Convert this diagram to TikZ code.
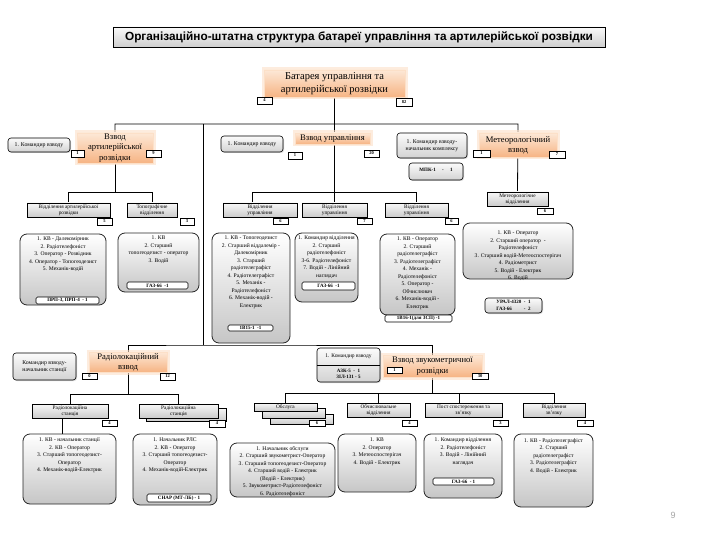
\documentclass[tikz,border=0pt]{standalone}
\usepackage{fontspec}
\setmainfont{Liberation Serif}
\newfontfamily\ttlfont{Liberation Sans}
\usetikzlibrary{backgrounds,shadows}
\definecolor{ortop}{RGB}{253,232,214}
\definecolor{orbot}{RGB}{246,180,132}
\definecolor{orglow}{RGB}{252,224,200}
\newcommand\fs[2]{\fontsize{#1}{#2}\selectfont}
\newcommand\bx[7]{%
 \pgfmathsetmacro\mywd{#5-#3}\pgfmathsetmacro\myht{#6-#4}%
 \pgfmathsetmacro\mycx{(#3+#5)/2}\pgfmathsetmacro\mycy{-(#4+#6)/2}%
 \node[#2,minimum width=\mywd pt,minimum height=\myht pt,inner sep=0pt,outer sep=0pt] (#1) at (\mycx pt,\mycy pt) {#7};}
\newcommand\dt[7]{%
 \bx{#1}{rbox}{#2}{#3}{#4}{#5}{}%
 \node[dtext,anchor=north] (#1t) at ([yshift=-#6pt]#1.north) {#7};}
\tikzset{
 orbox/.style={top color=ortop,bottom color=orbot,draw=orglow,line width=0.4pt,
   preaction={draw=orglow,line width=5pt,opacity=0.6},align=center,font=\fs{8.6}{10.2}},
 hdbox/.style={draw=black,line width=0.6pt,top color=gray!6,bottom color=gray!40,align=center,
   font=\fs{5.3}{6.3},drop shadow={shadow xshift=1pt,shadow yshift=-1pt,opacity=0.3}},
 rbox/.style={draw=black!85,line width=0.8pt,rounded corners=7pt,top color=white,bottom color=gray!45},
 cmdbox/.style={draw=black,line width=0.6pt,rounded corners=3pt,top color=gray!3,bottom color=gray!35,
   align=center,font=\fs{5.8}{7.5},drop shadow={shadow xshift=1pt,shadow yshift=-1pt,opacity=0.3}},
 nbox/.style={draw=black,line width=0.6pt,fill=white,font=\fs{4.5}{5}\bfseries,
   drop shadow={shadow xshift=0.8pt,shadow yshift=-0.8pt,opacity=0.3}},
 ibox/.style={draw=black,line width=0.6pt,rounded corners=1.5pt,fill=white,font=\fs{5}{6}\bfseries},
 dtext/.style={align=center,font=\fs{5.6}{7.5},inner sep=0pt},
 conn/.style={draw=black,line width=0.8pt}
}
\begin{document}
\begin{tikzpicture}
\useasboundingbox (0,0) rectangle (720pt,-540pt);
% title
\bx{tbar}{draw=black,line width=0.8pt,top color=gray!4,bottom color=gray!38,font=\ttlfont\bfseries\fs{11.8}{13}}{113}{27}{605}{47}{Організаційно-штатна структура батареї управління та артилерійської розвідки}
% top
\bx{top}{orbox,font=\fs{10.5}{12.5}}{264}{70}{405}{97}{Батарея управління та\\артилерійської розвідки}
\bx{n4}{nbox}{257}{97}{272}{104}{4}
\bx{n82}{nbox}{396}{98}{412}{106}{82}
% platoon art recon
\bx{vzar}{orbox}{77}{133}{153}{163}{Взвод\\артилерійської\\розвідки}
\bx{cmd1}{cmdbox}{8}{138}{70}{152}{1. Командир взводу}
\bx{na1}{nbox}{71}{150}{84}{157}{1}
\bx{na9}{nbox}{146}{150}{161}{157}{9}
% control platoon
\bx{vupr}{orbox}{295}{133}{370}{144}{Взвод управління}
\bx{cmd2}{cmdbox}{221}{136}{283}{152}{1. Командир взводу}
\bx{nu1}{nbox}{288}{152}{302}{159}{1}
\bx{nu20}{nbox}{364}{150}{379}{157}{20}
\bx{cmd3}{cmdbox}{397}{133}{467}{158}{1. Командир взводу-\\начальник комплексу}
\bx{mpk}{cmdbox}{409}{163}{463}{180}{}
\node[font=\fs{5}{6}\bfseries,anchor=north] (mpkt) at ([yshift=-2pt]mpk.north) {МПК-1 \quad - \quad 1};
% meteo platoon
\bx{mvz}{orbox}{479}{133}{557}{157}{Метеорологічний\\взвод}
\bx{nm1}{nbox}{473}{150}{490}{157}{1}
\bx{nm7}{nbox}{549}{151}{565}{158}{7}
% art recon squads
\bx{var}{hdbox}{27}{203}{110}{217}{Відділення артилерійської\\розвідки}
\bx{nv5}{nbox}{97}{218}{112}{225}{5}
\bx{vtop}{hdbox}{127}{203}{177}{217}{Топографічне\\відділення}
\bx{nv3}{nbox}{180}{218}{194}{225}{3}
\dt{dA1}{20}{234}{106}{305}{3}{1. КВ - Далекомірник\\2. Радіотелефоніст\\3. Оператор - Розвідник\\4. Оператор - Топогеодезист\\5. Механік-водій}
\bx{iA1}{ibox}{36}{297}{99}{304}{ПРП-3, ПРП-4 \ - 1}
\dt{dA2}{118}{233}{199}{292}{3}{1. КВ\\2. Старший\\топогеодезист - оператор\\3. Водій}
\bx{iA2}{ibox}{127}{282}{188}{289}{ГАЗ-66 \ -1}
% control squads
\bx{vu1}{hdbox}{223}{203}{297}{217}{Відділення\\управління}
\bx{nw6}{nbox}{273}{218}{288}{224}{6}
\bx{vu2}{hdbox}{302}{203}{367}{217}{Відділення\\управління}
\bx{nw7}{nbox}{357}{218}{372}{224}{7}
\bx{vu3}{hdbox}{385}{203}{448}{217}{Відділення\\управління}
\bx{nx6}{nbox}{445}{218}{458}{224}{6}
\dt{dU1}{212}{233}{290}{343}{3}{1. КВ - Топогеодезист\\2. Старший віддалемір -\\Далекомірник\\3. Старший\\радіотелеграфіст\\4. Радіотелеграфіст\\5. Механік -\\Радіотелефоніст\\6. Механік-водій -\\Електрик}
\bx{iU1}{ibox}{228}{325}{273}{331}{1В15-1 \ -1}
\dt{dU2}{295}{233}{358}{302}{3}{1. Командир відділення\\2. Старший\\радіотелефоніст\\3-6. Радіотелефоніст\\7. Водій - Лінійний\\наглядач}
\bx{iU2}{ibox}{302}{282}{355}{290}{ГАЗ-66 \ -1}
\dt{dU3}{380}{234}{455}{315}{3}{1. КВ - Оператор\\2. Старший\\радіотелеграфіст\\3. Радіотелеграфіст\\4. Механік -\\Радіотелефоніст\\5. Оператор -\\Обчислювач\\6. Механік-водій -\\Електрик}
\bx{iU3}{ibox}{385}{315}{452}{322}{1В16-1(для ЗСП) -1}
% meteo squad
\bx{mvid}{hdbox}{487}{192}{548}{206}{Метеорологічне\\відділення}
\bx{nmv6}{nbox}{537}{208}{553}{214}{6}
\dt{dM}{463}{223}{573}{279}{8}{1. КВ - Оператор\\2. Старший оператор \ -\\Радіотелефоніст\\3. Старший водій-Метеоспостерігач\\4. Радіометрист\\5. Водій - Електрик\\6. Водій}
\bx{mveh}{cmdbox}{485}{298}{542}{313}{}
\node[font=\fs{5}{6.5}\bfseries,anchor=center] (mveht) at (mveh.center) {\begin{tabular}{@{}l@{\ \ }c@{\ \ }r@{}}УРАЛ-4320&-&1\\ГАЗ-66&-&2\end{tabular}};
% radar platoon
\bx{rlvz}{orbox}{89}{352}{167}{372}{Радіолокаційний\\взвод}
\bx{nr0}{nbox}{82}{373}{97}{379}{0}
\bx{nr12}{nbox}{160}{373}{175}{380}{12}
\bx{cmd4}{cmdbox}{13}{353}{76}{380}{Командир взводу-\\начальник станції}
\bx{rls1}{hdbox}{32}{404}{108}{418}{Радіолокаційна\\станція}
\bx{nrs1}{nbox}{102}{420}{117}{426}{4}
\bx{rls2b}{hdbox}{146}{408}{226}{421}{}
\bx{rls2}{hdbox}{139}{404}{218}{418}{Радіолокаційна\\станція}
\bx{nrs2}{nbox}{209}{420}{225}{427}{4}
\dt{dR1}{23}{434}{116}{504}{4}{1. КВ - начальник станції\\2. КВ - Оператор\\3. Старший топогеодезист-\\Оператор\\4. Механік-водій-Електрик}
\dt{dR2}{133}{434}{217}{505}{4}{1. Начальник РЛС\\2. КВ - Оператор\\3. Старший топогеодезист-\\Оператор\\4. Механік-водій-Електрик}
\bx{iR2}{ibox}{147}{494}{211}{502}{СНАР (МТ-ЛБ) - 1}
% sound ranging platoon
\bx{cmd5}{cmdbox}{317}{348}{380}{382}{}
\draw[line width=0.6pt] (cmd5.west) -- (cmd5.east);
\node[font=\fs{5.5}{6}] (cmd5a) at ([yshift=8.5pt]cmd5.center) {1. Командир взводу};
\node[font=\fs{5}{6.2}\bfseries,align=center] (cmd5b) at ([yshift=-8.5pt]cmd5.center) {АЗК-5 \ - \ 1\\ЗІЛ-131 - 5};
\bx{zvuk}{orbox}{383}{355}{482}{377}{Взвод звукометричної\\розвідки}
\bx{nz1}{nbox}{387}{367}{402}{373}{1}
\bx{nz30}{nbox}{472}{373}{488}{379}{30}
\bx{obs3}{hdbox}{270}{414}{333}{424}{}
\bx{obs2}{hdbox}{262}{408}{325}{418}{}
\bx{obs1}{hdbox}{254}{403}{317}{411}{Обслуга}
\bx{nob6}{nbox}{309}{420}{325}{426}{6}
\bx{obch}{hdbox}{347}{403}{410}{417}{Обчислювальне\\відділення}
\bx{noc4}{nbox}{402}{420}{417}{426}{4}
\bx{post}{hdbox}{425}{403}{502}{417}{Пост спостереження та\\зв'язку}
\bx{np3}{nbox}{493}{420}{508}{426}{3}
\bx{vz}{hdbox}{523}{403}{585}{417}{Відділення\\зв'язку}
\bx{nvz4}{nbox}{577}{420}{593}{426}{4}
\dt{dO}{230}{443}{335}{497}{3}{1. Начальник обслуги\\2. Старший звукометрист-Оператор\\3. Старший топогеодезист-Оператор\\4. Старший водій - Електрик\\(Водій - Електрик)\\5. Звукометрист-Радіотелефоніст\\6. Радіотелефоніст}
\dt{dC}{338}{434}{416}{492}{4}{1. КВ\\2. Оператор\\3. Метеоспостерігач\\4. Водій - Електрик}
\dt{dP}{424}{434}{502}{498}{4}{1. Командир відділення\\2. Радіотелефоніст\\3. Водій - Лінійний\\наглядач}
\bx{iP}{ibox}{433}{478}{494}{485}{ГАЗ-66 \ - 1}
\dt{dV}{514}{434}{593}{507}{4}{1. КВ - Радіотелеграфіст\\2. Старший\\радіотелеграфіст\\3. Радіотелеграфіст\\4. Водій - Електрик}
% page number
\node[font=\ttlfont\fs{9}{10},text=gray!70] (pg) at (673pt,-515pt) {9};
% connectors
\begin{pgfonlayer}{background}
\fill[white] (0,0) rectangle (720pt,-540pt);
\coordinate (bus1) at (0,-124pt);
\coordinate (bA) at (0,-192pt);
\coordinate (bR) at (0,-394pt);
\coordinate (bS) at (0,-393pt);
\coordinate (j1) at (203pt,-124pt);
\coordinate (j2) at (203pt,-345pt);
\draw[conn] (top.south) -- (top.south|-bA);
\draw[conn] (vzar.north) -- (vzar.north|-bus1) -- (mvz.north|-bus1) -- (mvid.north);
\draw[conn] (j1) -- (j2);
\draw[conn] (vzar.south) -- (vzar.south|-bA);
\draw[conn] (var.north) |- (vtop.north|-bA) -- (vtop.north);
\draw[conn] ([xshift=-8pt]vu1.north) |- (vu3.north|-bA) -- (vu3.north);
\draw[conn] (vu2.north) -- (vu2.north|-bA);
\draw[conn] (rlvz.north) |- (j2) -| (zvuk.north);
\draw[conn] (rlvz.south) -- (rlvz.south|-bR);
\draw[conn] (rls1.north) |- (rls2.north|-bR) -- (rls2.north);
\draw[conn] ([xshift=-8pt]rls1.south) -- ([xshift=-8pt]rls1.south|-dR1.north);
\draw[conn] (zvuk.south) -- (zvuk.south|-bS);
\draw[conn] (obs1.north) |- (vz.north|-bS) -- (vz.north);
\draw[conn] (obch.north) -- (obch.north|-bS);
\draw[conn] ([xshift=-4pt]post.north) -- ([xshift=-4pt]post.north|-bS);
\end{pgfonlayer}
\end{tikzpicture}
\end{document}
